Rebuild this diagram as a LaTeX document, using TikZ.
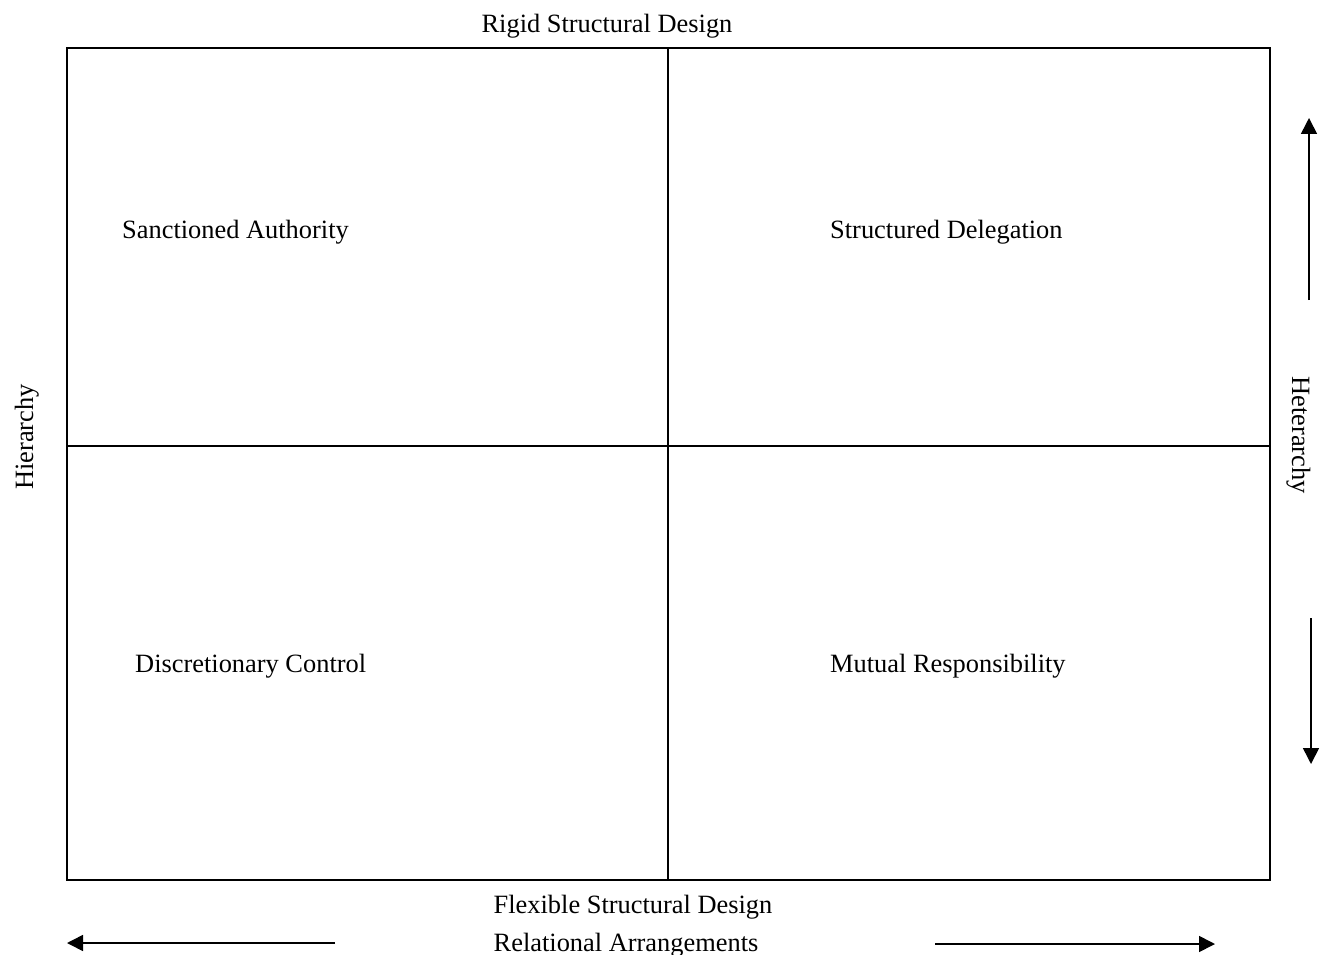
\documentclass[tikz,border=0pt]{standalone}
\usepackage{fontspec}
\setmainfont{Liberation Serif}
\usetikzlibrary{arrows.meta}
\begin{document}
\begin{tikzpicture}[x=1pt,y=-1pt,
  lbl/.style={font=\fontsize{26.4}{30}\selectfont, inner sep=0pt},
  frame/.style={line width=1.6pt},
  axisarrow/.style={line width=1.6pt, -{Triangle[length=16pt,width=16pt]}}]
\useasboundingbox (0,0) rectangle (1325,955);
% quadrant grid
\draw[frame] (67,48) rectangle (1270,880);
\draw[frame] (668,48) -- (668,880);
\draw[frame] (67,446) -- (1270,446);
% axis captions
\node[lbl, anchor=base] (top) at (607,33) {Rigid Structural Design};
\node[lbl, anchor=base] (bottom) at (633,913) {Flexible Structural Design};
\node[lbl, anchor=base] (rel) at (626,951) {Relational Arrangements};
\node[lbl, anchor=base, rotate=90] (hier) at (33,437) {Hierarchy};
\node[lbl, anchor=base, rotate=-90] (heter) at (1292,435) {Heterarchy};
% quadrant labels
\node[lbl, anchor=base west] (sa) at (122,238) {Sanctioned Authority};
\node[lbl, anchor=base west] (sd) at (830,238) {Structured Delegation};
\node[lbl, anchor=base west] (dc) at (135,672) {Discretionary Control};
\node[lbl, anchor=base west] (mr) at (830,672) {Mutual Responsibility};
% direction arrows
\coordinate (la0) at (335,943); \coordinate (la1) at (67,943);
\coordinate (ra0) at (935,944); \coordinate (ra1) at (1215,944);
\coordinate (ua0) at (1309,300); \coordinate (ua1) at (1309,118);
\coordinate (da0) at (1311,618); \coordinate (da1) at (1311,764);
\draw[axisarrow] (la0) -- (la1);
\draw[axisarrow] (ra0) -- (ra1);
\draw[axisarrow] (ua0) -- (ua1);
\draw[axisarrow] (da0) -- (da1);
\end{tikzpicture}
\end{document}
